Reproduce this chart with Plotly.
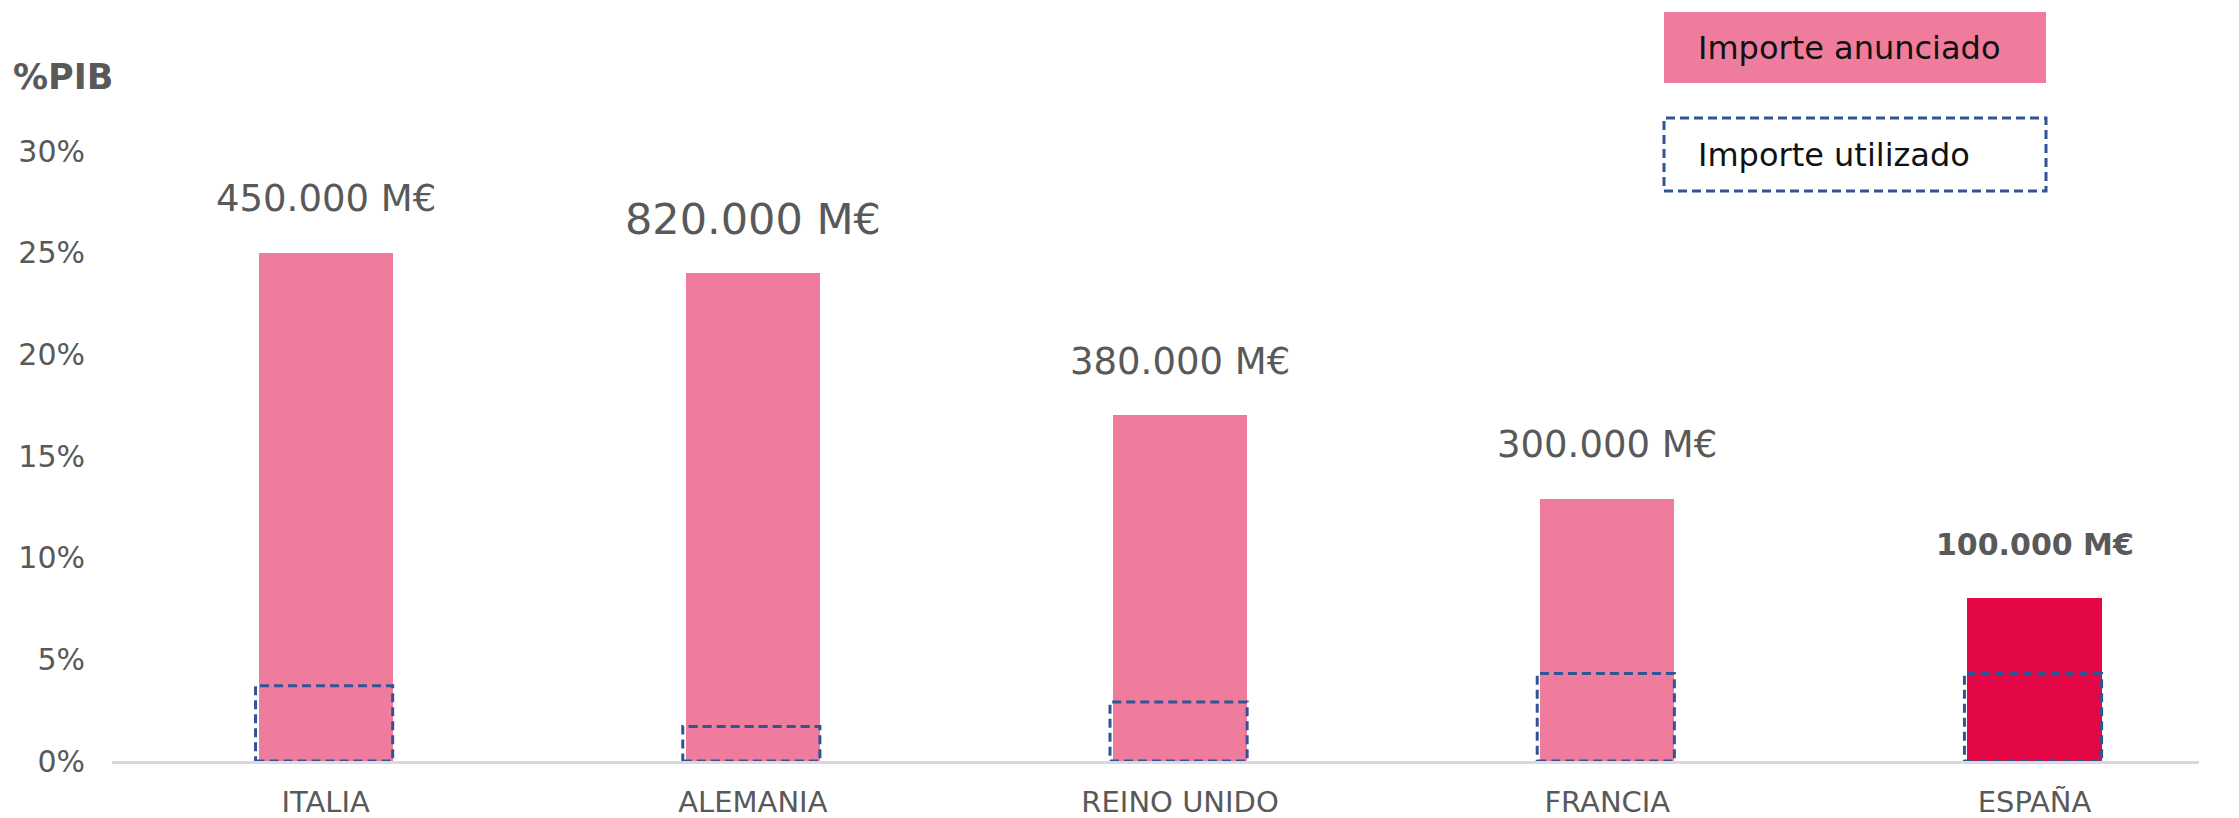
import plotly.graph_objects as go

categories = ["ITALIA", "ALEMANIA", "REINO UNIDO", "FRANCIA", "ESPAÑA"]
anunciado = [25.0, 24.0, 17.0, 12.9, 8.0]
utilizado = [3.7, 1.7, 2.9, 4.3, 4.3]
importe_labels = ["450.000 M€", "820.000 M€", "380.000 M€", "300.000 M€", "100.000 M€"]
y_ticks = [0, 5, 10, 15, 20, 25, 30]
y_ticktext = ["0%", "5%", "10%", "15%", "20%", "25%", "30%"]

PINK = "#F07C9D"
RED = "#E30845"
BLUE = "#2F5597"
GREY = "#595959"
FONT = "DejaVu Sans"

W, H = 2239, 818
OFF = 8  # page body margin offset
# plot area in screen pixels
SX0, SX1, SY0, SY1 = 112, 2199, 151, 761
ML, MR = SX0 - OFF, W - (SX1 - OFF)
MT, MB = SY0 - OFF, H - (SY1 - OFF)
PW, PH = W - ML - MR, H - MT - MB

def px(xp):
    return (xp - SX0) / PW

def py(yp):
    return (SY1 - yp) / PH

xs = list(range(len(categories)))
bar_w = 0.314
colors = [PINK] * (len(categories) - 1) + [RED]
DASH = "9px,5px"

fig = go.Figure()
fig.add_trace(go.Bar(
    x=xs, y=anunciado, width=bar_w,
    marker=dict(color=colors, line=dict(width=0)),
    showlegend=False, hoverinfo="skip",
))

shapes = []
for i, v in enumerate(utilizado):
    shapes.append(dict(
        type="rect", xref="x", yref="y",
        x0=i - bar_w / 2 - 0.007, x1=i + bar_w / 2, y0=0, y1=v,
        line=dict(color=BLUE, width=3, dash=DASH),
        fillcolor="rgba(0,0,0,0)", layer="above",
    ))

# legend boxes
shapes.append(dict(type="rect", xref="paper", yref="paper",
                   x0=px(1664), x1=px(2046), y0=py(83), y1=py(12),
                   fillcolor=PINK, line=dict(width=0)))
shapes.append(dict(type="rect", xref="paper", yref="paper",
                   x0=px(1664), x1=px(2046), y0=py(191), y1=py(118),
                   fillcolor="rgba(0,0,0,0)",
                   line=dict(color=BLUE, width=3, dash=DASH)))

annotations = []
for i, (v, t) in enumerate(zip(anunciado, importe_labels)):
    bold = (i == len(categories) - 1)
    size = 30 if bold else (43 if i == 1 else 37)
    annotations.append(dict(
        x=i, y=v, xref="x", yref="y", text=f"<b>{t}</b>" if bold else t,
        showarrow=False, yanchor="middle", xanchor="center", yshift=54,
        font=dict(family=FONT, size=size, color=GREY),
    ))

annotations.append(dict(x=px(11), y=py(77), xref="paper", yref="paper",
                        text="<b>%PIB</b>", showarrow=False, xanchor="left",
                        yanchor="middle", font=dict(family=FONT, size=35, color=GREY)))
annotations.append(dict(x=px(1696), y=py(48), xref="paper", yref="paper",
                        text="Importe anunciado", showarrow=False, xanchor="left",
                        yanchor="middle", font=dict(family=FONT, size=32, color="#111111")))
annotations.append(dict(x=px(1696), y=py(155), xref="paper", yref="paper",
                        text="Importe utilizado", showarrow=False, xanchor="left",
                        yanchor="middle", font=dict(family=FONT, size=32, color="#111111")))

fig.update_layout(
    width=W, height=H,
    margin=dict(l=ML, r=MR, t=MT, b=MB, pad=0, autoexpand=False),
    plot_bgcolor="white", paper_bgcolor="white",
    shapes=shapes, annotations=annotations,
    xaxis=dict(
        range=[-0.5, 4.385], tickmode="array", tickvals=xs, ticktext=categories,
        showgrid=False, zeroline=False, showline=True, linecolor="#D9D9D9", linewidth=3,
        ticks="", ticklabelstandoff=13, automargin=False,
        tickfont=dict(family=FONT, size=29, color=GREY),
    ),
    yaxis=dict(
        range=[0, 30], tickmode="array", tickvals=y_ticks, ticktext=y_ticktext,
        showgrid=False, zeroline=False, showline=False, ticks="",
        ticklabelstandoff=26, automargin=False,
        tickfont=dict(family=FONT, size=30, color=GREY),
    ),
    bargap=0,
)

fig.write_html("out.html")
